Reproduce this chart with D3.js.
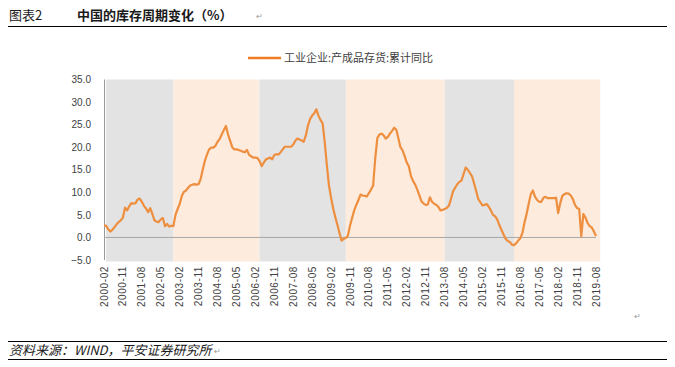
<!DOCTYPE html>
<html>
<head>
<meta charset="utf-8">
<script src="https://cdn.jsdelivr.net/npm/d3@7"></script>
<style>
  body { margin: 0; background: #fff; }
  svg { display: block; font-family: "Noto Sans CJK SC", "Noto Sans", sans-serif; }
  .axis text { fill: #404040; font-size: 10px; font-family: "Liberation Sans", Arial, sans-serif; }
  .axis path, .axis line { stroke: none; }
</style>
</head>
<body>
<svg id="chart"></svg>
<script>
// 工业企业:产成品存货:累计同比 (%), monthly from 2000-02 to 2019-08
const startMonth = '2000-02';
const v2000 = [2.6, 2.6, 1.8, 1.3, 1.7, 2.3, 2.9, 3.4, 3.8, 4.4, 6.6];
const v2001 = [6.0, 6.9, 7.6, 7.5, 7.6, 8.4, 8.6, 7.9, 7.0, 6.4, 5.6, 6.5];
const v2002 = [5.2, 3.8, 3.5, 3.4, 4.0, 4.3, 2.5, 3.0, 2.4, 2.6, 2.5, 5.0];
const v2003 = [6.3, 7.4, 9.2, 10.1, 10.4, 11.0, 11.5, 11.7, 11.8, 11.7, 11.8, 13.0];
const v2004 = [15.1, 17.0, 18.4, 19.5, 19.9, 19.9, 20.3, 21.2, 21.8, 22.8, 23.8, 24.7];
const v2005 = [22.8, 21.4, 20.0, 19.5, 19.5, 19.4, 19.2, 19.0, 18.9, 19.4, 18.3, 18.0];
const v2006 = [17.7, 17.7, 17.6, 16.9, 15.8, 16.6, 17.3, 17.5, 17.7, 17.3, 18.3, 18.4];
const v2007 = [18.4, 18.9, 19.5, 20.1, 20.1, 20.1, 20.1, 20.6, 21.4, 21.9, 21.7, 21.5];
const v2008 = [21.2, 22.6, 24.8, 26.2, 27.0, 27.5, 28.4, 27.0, 26.0, 25.3, 21.0, 16.0];
const v2009 = [11.5, 8.8, 6.4, 4.5, 2.8, 1.0, -0.7, -0.3, -0.1, 0.4, 2.6, 4.3];
const v2010 = [6.0, 7.2, 8.3, 9.5, 9.3, 9.2, 9.1, 9.8, 10.6, 11.5, 17.5, 22.0];
const v2011 = [22.8, 23.0, 22.6, 21.9, 22.3, 23.0, 23.6, 24.3, 23.9, 22.0, 20.0, 19.3];
const v2012 = [18.0, 16.6, 15.7, 13.6, 12.5, 11.7, 10.6, 9.3, 8.0, 7.5, 7.2, 7.3];
const v2013 = [8.9, 7.9, 7.5, 7.2, 6.8, 6.0, 6.1, 6.3, 6.5, 7.0, 8.5, 10.2];
const v2014 = [11.0, 11.8, 12.3, 12.6, 14.0, 15.5, 15.0, 14.3, 13.6, 12.0, 10.3, 8.5];
const v2015 = [7.8, 7.1, 7.2, 7.4, 6.8, 6.0, 5.0, 4.7, 4.0, 2.8, 1.7, 0.7];
const v2016 = [-0.3, -0.8, -1.0, -1.6, -1.7, -1.3, -0.7, -0.2, 1.0, 3.3, 5.2, 7.5];
const v2017 = [9.6, 10.4, 9.0, 8.3, 7.9, 7.9, 8.8, 9.0, 8.7, 8.7, 8.7, 8.7];
const v2018 = [8.8, 5.4, 7.6, 9.2, 9.6, 9.8, 9.7, 9.3, 8.5, 7.2, 6.5, 6.3];
const v2019 = [0.3, 5.2, 4.4, 3.2, 2.5, 2.2, 1.3, 0.3];

// x-axis tick labels (every 9 months)
const xTickLabels = ['2000-02', '2000-11', '2001-08', '2002-05', '2003-02', '2003-11', '2004-08',
  '2005-05', '2006-02', '2006-11', '2007-08', '2008-05', '2009-02', '2009-11', '2010-08',
  '2011-05', '2012-02', '2012-11', '2013-08', '2014-05', '2015-02', '2015-11', '2016-08',
  '2017-05', '2018-02', '2018-11', '2019-08'];
const yTicks = [-5, 0, 5, 10, 15, 20, 25, 30, 35];

// inventory cycle phases (background bands)
const phaseStart = ['2000-03', '2002-11', '2006-04', '2009-09', '2013-08', '2016-05'];
const phaseEnd = ['2002-11', '2006-04', '2009-09', '2013-08', '2016-05', '2019-10'];
const phaseKind = ['down', 'up', 'down', 'up', 'down', 'up'];

const seriesName = '工业企业:产成品存货:累计同比';

function monthIndex(s) {
  const [y, m] = s.split('-').map(Number);
  const [y0, m0] = startMonth.split('-').map(Number);
  return (y - y0) * 12 + (m - m0);
}

class InventoryChart {
  constructor(_config, _data) {
    this.config = {
      parentElement: _config.parentElement,
      containerWidth: _config.containerWidth || 675,
      containerHeight: _config.containerHeight || 367,
      margin: { top: 79.5, left: 104, right: 79, bottom: 107 }
    };
    this.data = _data;
    this.initVis();
  }

  initVis() {
    let vis = this;
    vis.width = vis.config.containerWidth - vis.config.margin.left - vis.config.margin.right;
    vis.height = vis.config.containerHeight - vis.config.margin.top - vis.config.margin.bottom;

    vis.svg = d3.select(vis.config.parentElement)
        .attr('width', vis.config.containerWidth)
        .attr('height', vis.config.containerHeight);

    vis.xScale = d3.scaleLinear()
        .domain([0, monthIndex('2019-08')])
        .range([0, vis.width]);

    vis.yScale = d3.scaleLinear()
        .domain([-5, 35])
        .range([vis.height, 0]);

    vis.chart = vis.svg.append('g')
        .attr('transform', `translate(${vis.config.margin.left},${vis.config.margin.top})`);

    vis.renderVis();
  }

  renderVis() {
    let vis = this;

    // page furniture: title, rules, source
    vis.svg.append('text').attr('x', 9).attr('y', 20)
        .attr('font-size', 13).attr('fill', '#1a1a1a').text('图表2');
    vis.svg.append('text').attr('x', 77).attr('y', 20)
        .attr('font-size', 13).attr('font-weight', 'bold').attr('fill', '#1a1a1a')
        .text('中国的库存周期变化（%）');
    vis.svg.append('text').attr('x', 256).attr('y', 19)
        .attr('font-size', 8).attr('fill', '#999').text('↵');
    vis.svg.append('line').attr('x1', 8).attr('x2', 667).attr('y1', 26.5).attr('y2', 26.5)
        .attr('stroke', '#000').attr('stroke-width', 1);

    vis.svg.append('text').attr('x', 634).attr('y', 319)
        .attr('font-size', 8).attr('fill', '#999').text('↵');
    vis.svg.append('line').attr('x1', 8).attr('x2', 667).attr('y1', 341.5).attr('y2', 341.5)
        .attr('stroke', '#000').attr('stroke-width', 1);
    vis.svg.append('text').attr('x', 9).attr('y', 355)
        .attr('font-size', 13).attr('font-style', 'italic').attr('fill', '#1a1a1a')
        .text('资料来源：WIND，平安证券研究所');
    vis.svg.append('text').attr('x', 214).attr('y', 354)
        .attr('font-size', 8).attr('fill', '#999').text('↵');
    vis.svg.append('line').attr('x1', 8).attr('x2', 667).attr('y1', 359.5).attr('y2', 359.5)
        .attr('stroke', '#000').attr('stroke-width', 1);

    // background bands
    vis.chart.selectAll('.phase')
        .data(phaseStart.map((s, i) => ({ s: s, e: phaseEnd[i], k: phaseKind[i] })))
        .join('rect')
        .attr('class', 'phase')
        .attr('x', d => vis.xScale(monthIndex(d.s)))
        .attr('width', d => vis.xScale(monthIndex(d.e)) - vis.xScale(monthIndex(d.s)))
        .attr('y', 0)
        .attr('height', vis.height + 1.5)
        .attr('fill', d => d.k === 'down' ? '#e3e3e3' : '#fdebdd');

    // y axis labels
    vis.yAxis = d3.axisLeft(vis.yScale)
        .tickValues(yTicks)
        .tickSize(0)
        .tickPadding(13)
        .tickFormat(d3.format('.1f'));
    vis.chart.append('g').attr('class', 'axis y-axis').call(vis.yAxis);

    vis.chart.append('line')
        .attr('x1', 0.5).attr('x2', 0.5).attr('y1', 0).attr('y2', vis.height)
        .attr('stroke', '#999').attr('stroke-width', 1);

    // zero line
    vis.chart.append('line')
        .attr('x1', 0).attr('x2', vis.width)
        .attr('y1', vis.yScale(0)).attr('y2', vis.yScale(0))
        .attr('stroke', '#a6a6a6').attr('stroke-width', 1);

    // x axis labels, rotated
    vis.chart.append('g')
        .attr('class', 'axis x-axis')
        .selectAll('text')
        .data(xTickLabels)
        .join('text')
        .attr('transform', d => `translate(${vis.xScale(monthIndex(d)) + 3.5},${vis.height + 6}) rotate(-90)`)
        .attr('text-anchor', 'end')
        .style('letter-spacing', '0.6px')
        .text(d => d);

    // series line
    vis.line = d3.line()
        .x((d, i) => vis.xScale(i))
        .y(d => vis.yScale(d));

    vis.chart.append('path')
        .datum(vis.data)
        .attr('fill', 'none')
        .attr('stroke', '#ee8e3f')
        .attr('stroke-width', 2.2)
        .attr('stroke-linejoin', 'round')
        .attr('d', vis.line);

    // legend
    let legend = vis.svg.append('g').attr('transform', 'translate(248,58)');
    legend.append('line').attr('x1', 0).attr('x2', 33).attr('y1', 0).attr('y2', 0)
        .attr('stroke', '#ee7d26').attr('stroke-width', 2.5);
    legend.append('text').attr('x', 36).attr('y', 4)
        .attr('font-size', 11).attr('fill', '#404040').text(seriesName);
  }
}

const values = [].concat(v2000, v2001, v2002, v2003, v2004, v2005, v2006, v2007, v2008, v2009,
  v2010, v2011, v2012, v2013, v2014, v2015, v2016, v2017, v2018, v2019);

new InventoryChart({ parentElement: '#chart' }, values);
</script>
</body>
</html>
